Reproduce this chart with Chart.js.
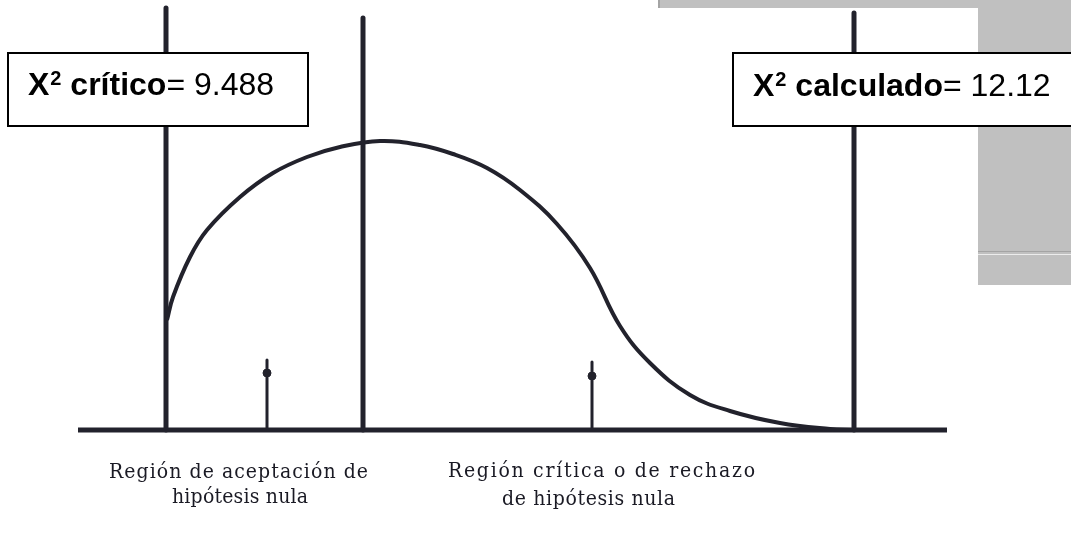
<!DOCTYPE html>
<html>
<head>
<meta charset="utf-8">
<script src="https://cdn.jsdelivr.net/npm/chart.js@4/dist/chart.umd.min.js"></script>
<style>
  html, body { margin: 0; padding: 0; background: #fff; }
  canvas { display: block; }
</style>
</head>
<body>
<canvas id="chi" width="1071" height="557"></canvas>
<script>
// chi-square density sketch
const curveX = [16.7, 17.3, 19.0, 20.7, 24.0, 27.3, 30.7, 34.0, 38.0, 42.0, 45.3, 48.7, 52.0, 55.7, 59.0, 62.0, 65.0, 69.0, 73.0, 78.0, 83.0, 85.3];
const curveY = [11.0, 13.3, 17.3, 20.0, 23.3, 25.7, 27.3, 28.3, 28.9, 28.5, 27.6, 26.2, 24.0, 20.6, 16.2, 10.4, 6.7, 3.5, 1.9, 0.7, 0.1, 0.0];

// tall vertical rules
const markerX = [16.6, 36.3, 85.4];
const markerTop = [42.2, 41.2, 41.7];

// small arrows on the axis
const arrowX = [26.7, 59.2];
const arrowTop = [7.0, 6.8];
const arrowKnot = [5.7, 5.4];

const axisRange = [7.8, 94.7];

// texts
const boxNames = ['crítico', 'calculado'];
const boxValues = ['9.488', '12.12'];
const regionText = [
  ['Región de aceptación de', 'hipótesis nula'],
  ['Región crítica o de rechazo', 'de hipótesis nula']
];

const ink = '#22222c';

const datasets = [];

datasets.push({
  data: curveX.map((x, i) => ({ x: x, y: curveY[i] })),
  borderColor: ink,
  borderWidth: 4,
  tension: 0.4,
  pointRadius: 0
});

datasets.push({
  data: axisRange.map(x => ({ x: x, y: 0 })),
  borderColor: ink,
  borderWidth: 5,
  pointRadius: 0
});

markerX.forEach((x, i) => {
  datasets.push({
    data: [{ x: x, y: 0 }, { x: x, y: markerTop[i] }],
    borderColor: ink,
    borderWidth: 5,
    borderCapStyle: 'round',
    pointRadius: 0
  });
});

arrowX.forEach((x, i) => {
  datasets.push({
    data: [{ x: x, y: 0 }, { x: x, y: arrowTop[i] }],
    borderColor: ink,
    borderWidth: 3,
    borderCapStyle: 'round',
    pointRadius: 0
  });
  datasets.push({
    data: [{ x: x, y: arrowKnot[i] }],
    showLine: false,
    pointRadius: 4,
    pointStyle: 'circle',
    backgroundColor: ink,
    borderColor: ink
  });
});

// layout for the annotation boxes and captions (scale units)
const boxLayout = [
  { left: 0.8, right: 30.8, top: 37.7, bottom: 30.4, textX: 2.8, baseY: 33.5 },
  { left: 73.3, right: 107.6, top: 37.7, bottom: 30.4, textX: 75.3, baseY: 33.4 }
];
const captionLayout = [
  [{ from: 10.9, to: 36.8, y: -4.8 }, { from: 17.2, to: 30.8, y: -7.3 }],
  [{ from: 44.8, to: 75.5, y: -4.7 }, { from: 50.2, to: 67.5, y: -7.5 }]
];

const scanBackground = {
  id: 'scanBackground',
  beforeDraw(chart) {
    const ctx = chart.ctx;
    const xs = chart.scales.x, ys = chart.scales.y;
    const px = v => xs.getPixelForValue(v);
    const py = v => ys.getPixelForValue(v);
    ctx.save();
    ctx.fillStyle = '#ffffff';
    ctx.fillRect(0, 0, chart.width, chart.height);
    // grey window frame peeking behind the scan
    ctx.fillStyle = '#c0c0c0';
    ctx.fillRect(px(65.8), py(43), px(107.1) - px(65.8), py(42.2) - py(43));
    ctx.fillRect(px(97.8), py(42.3), px(107.1) - px(97.8), py(14.5) - py(42.3));
    ctx.fillStyle = '#a4a4a4';
    ctx.fillRect(px(65.8), py(43), 2, py(42.2) - py(43));
    ctx.fillRect(px(97.8), py(17.9), px(107.1) - px(97.8), 1);
    ctx.fillStyle = '#ececec';
    ctx.fillRect(px(97.8), py(17.6), px(107.1) - px(97.8), 1);
    ctx.restore();
  }
};

function fitText(ctx, text, x0, x1, y) {
  ctx.letterSpacing = '0px';
  const w = ctx.measureText(text).width;
  const gap = (x1 - x0 - w) / Math.max(1, text.length - 1);
  ctx.letterSpacing = gap + 'px';
  ctx.fillText(text, x0, y);
  ctx.letterSpacing = '0px';
}

const annotations = {
  id: 'annotations',
  afterDatasetsDraw(chart) {
    const ctx = chart.ctx;
    const xs = chart.scales.x, ys = chart.scales.y;
    const px = v => xs.getPixelForValue(v);
    const py = v => ys.getPixelForValue(v);
    ctx.save();

    boxLayout.forEach((b, i) => {
      const l = px(b.left), r = px(b.right), t = py(b.top), btm = py(b.bottom);
      ctx.fillStyle = '#ffffff';
      ctx.fillRect(l, t, r - l, btm - t);
      ctx.strokeStyle = '#000000';
      ctx.lineWidth = 2;
      ctx.strokeRect(l, t, r - l, btm - t);

      let x = px(b.textX);
      const y = py(b.baseY);
      ctx.fillStyle = '#000000';
      ctx.textBaseline = 'alphabetic';
      ctx.textAlign = 'left';
      ctx.font = 'bold 32px "Liberation Sans", Arial, sans-serif';
      ctx.fillText('X', x, y);
      x += ctx.measureText('X').width + 1;
      ctx.font = 'bold 20px "Liberation Sans", Arial, sans-serif';
      ctx.fillText('2', x, y - 10);
      x += ctx.measureText('2').width;
      ctx.font = 'bold 32px "Liberation Sans", Arial, sans-serif';
      const name = ' ' + boxNames[i];
      ctx.fillText(name, x, y);
      x += ctx.measureText(name).width;
      ctx.font = '32px "Liberation Sans", Arial, sans-serif';
      ctx.fillText('= ' + boxValues[i], x, y);
    });

    ctx.fillStyle = '#1a1a24';
    ctx.textAlign = 'left';
    ctx.font = '21px "DejaVu Serif Condensed", "DejaVu Serif", serif';
    regionText.forEach((lines, i) => {
      lines.forEach((line, j) => {
        const c = captionLayout[i][j];
        fitText(ctx, line, px(c.from), px(c.to), py(c.y));
      });
    });

    ctx.restore();
  }
};

new Chart(document.getElementById('chi').getContext('2d'), {
  type: 'scatter',
  data: { datasets: datasets },
  options: {
    responsive: false,
    animation: false,
    showLine: true,
    layout: { padding: 0, autoPadding: false },
    plugins: {
      legend: { display: false },
      tooltip: { enabled: false }
    },
    scales: {
      x: { type: 'linear', min: 0, max: 107.1, display: false },
      y: { type: 'linear', min: -12.7, max: 43, display: false }
    }
  },
  plugins: [scanBackground, annotations]
});
</script>
</body>
</html>
